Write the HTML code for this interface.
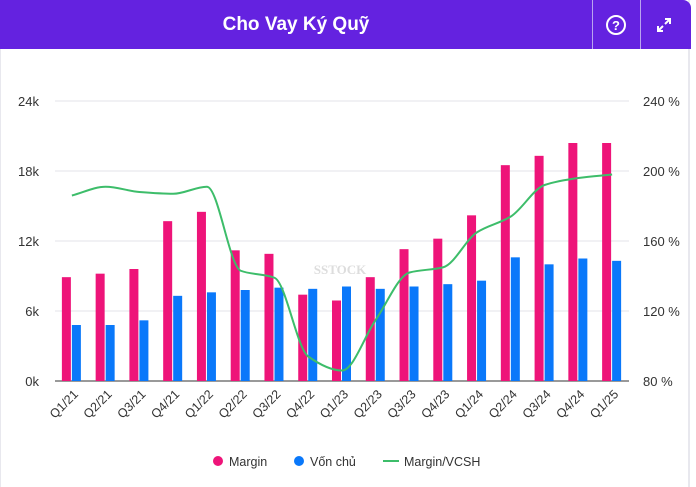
<!DOCTYPE html>
<html><head><meta charset="utf-8"><style>
body{margin:0;background:#fff;font-family:"Liberation Sans",sans-serif;}
#card{position:absolute;left:0;top:0;width:690px;height:487px;border-right:2px solid #e8e8ee;border-left:1px solid #e8e8ee;box-sizing:border-box;}
#hdr{position:absolute;left:0;top:0;width:691px;height:49px;background:#6422e0;border-top-right-radius:8px;}
#title{position:absolute;left:0;width:592px;top:0;line-height:49px;text-align:center;color:#fff;font-weight:bold;font-size:19px;}
.sep{position:absolute;top:0;width:1px;height:49px;background:#b9a3ef;}
</style></head><body>
<div id="card"></div>
<div id="hdr">
 <div id="title">Cho Vay Ký Quỹ</div>
 <div class="sep" style="left:592px"></div>
 <div class="sep" style="left:640px"></div>
 <svg style="position:absolute;left:604px;top:13px" width="24" height="24"><circle cx="12" cy="12" r="9" fill="none" stroke="#fff" stroke-width="2"/><text x="12" y="17" text-anchor="middle" fill="#fff" font-size="13" font-weight="bold" font-family="Liberation Sans">?</text></svg>
 <svg style="position:absolute;left:655px;top:16px" width="18" height="18"><path d="M10 3h5v5M15 3l-5 5M8 15H3v-5M3 15l5-5" stroke="#fff" stroke-width="2" fill="none"/></svg>
</div>
<svg id="chart" width="696" height="487" style="position:absolute;left:0;top:0"></svg>
<script>
const categories=["Q1/21","Q2/21","Q3/21","Q4/21","Q1/22","Q2/22","Q3/22","Q4/22","Q1/23","Q2/23","Q3/23","Q4/23","Q1/24","Q2/24","Q3/24","Q4/24","Q1/25"];
const margin=[8.9,9.2,9.6,13.7,14.5,11.2,10.9,7.4,6.9,8.9,11.3,12.2,14.2,18.5,19.3,20.4,20.4];
const vonChu=[4.8,4.8,5.2,7.3,7.6,7.8,8.0,7.9,8.1,7.9,8.1,8.3,8.6,10.6,10.0,10.5,10.3];
const ratio=[186,191,188,187,191,143,139,94,86,115,142,145,165,174,192,196,198];
const leftTicks=[0,6,12,18,24];
const rightTicks=[80,120,160,200,240];
const NS="http://www.w3.org/2000/svg";
const svg=document.getElementById('chart');
const X0=55,X1=629,Y0=381,Y1=101;
const bw=(X1-X0)/categories.length;
const yL=v=>Y0-(v/24)*(Y0-Y1);
const yR=v=>Y0-((v-80)/160)*(Y0-Y1);
const xc=i=>X0+bw*(i+0.5);
function mk(t,a){const e=document.createElementNS(NS,t);for(const k in a)e.setAttribute(k,a[k]);svg.appendChild(e);return e;}
leftTicks.forEach((t,i)=>{
 const g=mk('line',{x1:X0,x2:X1,y1:yL(t),y2:yL(t),stroke:i?'#e3e3e8':'#333','stroke-width':1});
 
 
 const l=mk('text',{x:39,y:yL(t)+5,'text-anchor':'end','font-size':13,fill:'#333','font-family':'Liberation Sans'});
 l.textContent=t+'k';
 
 
});
rightTicks.forEach(t=>{
 const l=mk('text',{x:643,y:yR(t)+5,'font-size':13,fill:'#333','font-family':'Liberation Sans'});
 l.textContent=t+' %';
 
 
});
const wm=mk('text',{x:340,y:274,'text-anchor':'middle','font-size':13,'font-weight':'bold',fill:'#ddd','font-family':'Liberation Serif'});
wm.textContent='SSTOCK';


categories.forEach((c,i)=>{
 const c0=xc(i);
 const a=mk('rect',{x:c0-10,y:yL(margin[i]),width:9,height:Y0-yL(margin[i]),fill:'#ee1479'});
 
 
 const b=mk('rect',{x:c0,y:yL(vonChu[i]),width:9,height:Y0-yL(vonChu[i]),fill:'#0a78fa'});
 
 
 const t=mk('text',{x:c0+7,y:395,'text-anchor':'end','font-size':12.5,fill:'#333','font-family':'Liberation Sans',transform:`rotate(-45 ${c0+7} 395)`});
 t.textContent=c;
 
 
});
const P=ratio.map((v,i)=>[xc(i),yR(v)]);
const n=P.length,d=[],m=[];
for(let i=0;i<n-1;i++)d.push((P[i+1][1]-P[i][1])/(P[i+1][0]-P[i][0]));
for(let i=0;i<n;i++){if(i==0)m.push(d[0]);else if(i==n-1)m.push(d[n-2]);else m.push(d[i-1]*d[i]<=0?0:2/(1/d[i-1]+1/d[i]));}
let p=`M${P[0][0]},${P[0][1]}`;
for(let i=0;i<n-1;i++){const h=(P[i+1][0]-P[i][0])/3;p+=` C${P[i][0]+h},${P[i][1]+m[i]*h} ${P[i+1][0]-h},${P[i+1][1]-m[i+1]*h} ${P[i+1][0]},${P[i+1][1]}`;}
const ln=mk('path',{d:p,fill:'none',stroke:'#3dbd6a','stroke-width':2});


const leg=[['Margin','#ee1479',213,'dot'],['Vốn chủ','#0a78fa',294,'dot'],['Margin/VCSH','#3dbd6a',387,'line']];
leg.forEach(([t,c,x,k])=>{
 const g=document.createElementNS(NS,'g');svg.appendChild(g);
 
 
 if(k=='dot'){const e=document.createElementNS(NS,'circle');e.setAttribute('cx',x+5);e.setAttribute('cy',461);e.setAttribute('r',5);e.setAttribute('fill',c);g.appendChild(e);}
 else{const e=document.createElementNS(NS,'line');e.setAttribute('x1',x-4);e.setAttribute('x2',x+12);e.setAttribute('y1',461);e.setAttribute('y2',461);e.setAttribute('stroke',c);e.setAttribute('stroke-width',2);g.appendChild(e);}
 const tx=document.createElementNS(NS,'text');tx.setAttribute('x',x+(k=='dot'?16:17));tx.setAttribute('y',466);tx.setAttribute('font-size',12.5);tx.setAttribute('fill','#333');tx.setAttribute('font-family','Liberation Sans');tx.textContent=t;g.appendChild(tx);
});
</script>
</body></html>
